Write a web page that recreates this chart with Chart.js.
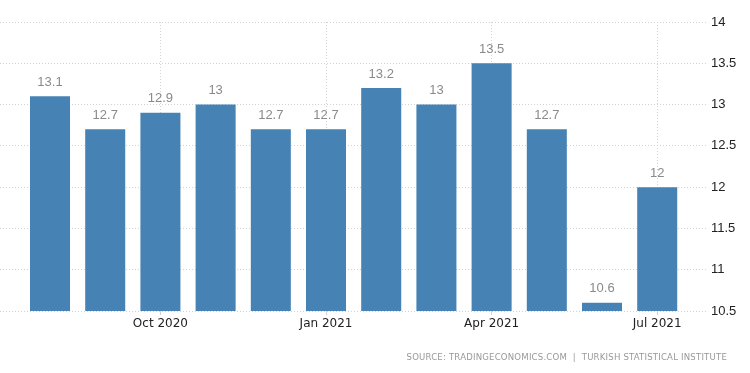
<!DOCTYPE html>
<html>
<head>
<meta charset="utf-8">
<script src="https://cdn.jsdelivr.net/npm/chart.js@4.4.0/dist/chart.umd.min.js"></script>
<style>
  html, body { margin: 0; padding: 0; background: #fff; }
  #wrap { position: relative; width: 750px; height: 373px; }
  #source {
    position: absolute; right: 23px; top: 351px;
    font-family: "DejaVu Sans Condensed", "DejaVu Sans", sans-serif; font-size: 9.5px;
    letter-spacing: 0.2px; color: #999; white-space: pre;
  }
</style>
</head>
<body>
<div id="wrap">
  <canvas id="myChart" width="750" height="373"></canvas>
  <div id="source">SOURCE: TRADINGECONOMICS.COM  |  TURKISH STATISTICAL INSTITUTE</div>
</div>
<script>
"use strict";

// Monthly data, Aug 2020 - Jul 2021
const months = ["Aug 2020", "Sep 2020", "Oct 2020", "Nov 2020", "Dec 2020", "Jan 2021",
  "Feb 2021", "Mar 2021", "Apr 2021", "May 2021", "Jun 2021", "Jul 2021"];
const values = [13.1, 12.7, 12.9, 13, 12.7, 12.7, 13.2, 13, 13.5, 12.7, 10.6, 12];
const xTickIdx = [2, 5, 8, 11];
const yTicks = [10.5, 11, 11.5, 12, 12.5, 13, 13.5, 14];

const ctx = document.getElementById("myChart").getContext("2d");

// Value labels above each bar
const barLabels = {
  id: "barLabels",
  afterDatasetsDraw(chart) {
    const c = chart.ctx;
    const meta = chart.getDatasetMeta(0);
    c.save();
    c.font = "13px 'Liberation Sans', Arial, sans-serif";
    c.fillStyle = "#8a8a8a";
    c.textAlign = "center";
    c.textBaseline = "middle";
    meta.data.forEach((bar, i) => {
      c.fillText(String(values[i]), bar.x, bar.y - 14);
    });
    c.restore();
  },
};

const myChart = new Chart(ctx, {
  type: "bar",
  data: {
    datasets: [
      {
        data: values.map((v, i) => ({ x: i, y: v })),
        backgroundColor: "#4682b4",
        barPercentage: 0.725,
        categoryPercentage: 1,
      },
    ],
  },
  options: {
    responsive: false,
    animation: false,
    layout: { padding: { top: 22, left: 0, right: 0, bottom: 0 } },
    scales: {
      x: {
        type: "linear",
        min: -0.906,
        max: 11.92,
        offset: false,
        afterBuildTicks: (scale) => {
          scale.ticks = xTickIdx.map((v) => ({ value: v }));
        },
        afterFit: (scale) => {
          scale.height = 62;
        },
        grid: {
          color: "#d2d2d2",
          tickLength: 4,
          offset: false,
        },
        border: { display: false, dash: [1, 2] },
        ticks: {
          color: "#222",
          font: { family: "DejaVu Sans", size: 12 },
          padding: 2,
          maxRotation: 0,
          autoSkip: false,
          callback: (v) => months[v],
        },
      },
      y: {
        position: "right",
        min: 10.5,
        max: 14,
        afterBuildTicks: (scale) => {
          scale.ticks = yTicks.map((v) => ({ value: v }));
        },
        afterFit: (scale) => {
          scale.width = 42;
        },
        grid: {
          color: "#d2d2d2",
          drawTicks: false,
        },
        border: { display: false, dash: [1, 2] },
        ticks: {
          color: "#222",
          font: { family: "Liberation Sans", size: 13 },
          padding: 3,
          callback: (v) => String(v),
        },
      },
    },
    plugins: {
      legend: { display: false },
      tooltip: { enabled: false },
    },
  },
  plugins: [barLabels],
});
</script>
</body>
</html>
